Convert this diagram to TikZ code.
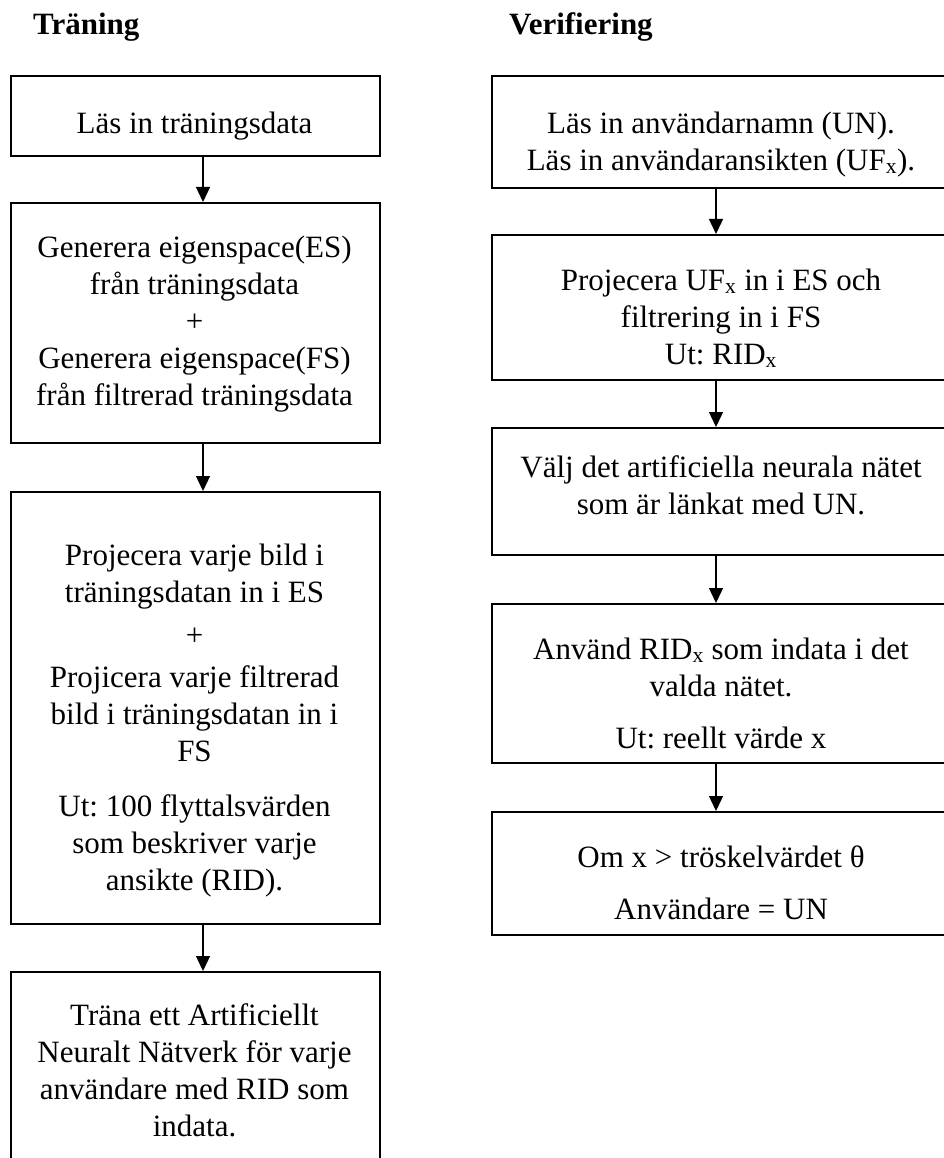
\documentclass[tikz,border=0pt]{standalone}
\usepackage{fontspec}
\setmainfont{Liberation Serif}
\usetikzlibrary{arrows.meta}
\begin{document}
\frenchspacing
\begin{tikzpicture}[x=1pt,y=-1pt,
  boxs/.style={draw, line width=2pt, inner sep=0pt, anchor=north west, minimum width=#1},
  lbox/.style={boxs=369pt},
  rbox/.style={boxs=460pt},
  txt/.style={inner sep=0pt, anchor=north, align=center, font=\fontsize{31}{37}\selectfont},
  ttl/.style={inner sep=0pt, anchor=base west, font=\fontsize{31}{37}\selectfont\bfseries},
  arr/.style={line width=1.3pt, -{Triangle[length=15pt,width=14pt]}}]
\useasboundingbox (0,0) rectangle (944,1158);
% titles
\node[ttl] (t1) at (33,35) {Träning};
\node[ttl] (t2) at (509,35) {Verifiering};
% left boxes
\node[lbox, minimum height=80pt] (L1) at (10,75) {};
\node[lbox, minimum height=240pt] (L2) at (10,202) {};
\node[lbox, minimum height=432pt] (L3) at (10,491) {};
\node[lbox, minimum height=250pt] (L4) at (10,971) {};
% right boxes
\node[rbox, minimum height=112pt] (R1) at (491,75) {};
\node[rbox, minimum height=145pt] (R2) at (491,234) {};
\node[rbox, minimum height=127pt] (R3) at (491,427) {};
\node[rbox, minimum height=159pt] (R4) at (491,603) {};
\node[rbox, minimum height=123pt] (R5) at (491,811) {};
% texts (north = first baseline - 25.9)
\node[txt] (l1t) at (194.5,107.1) {\strut Läs in träningsdata};
\node[txt] (l2t) at (194.5,231.1) {\strut Generera eigenspace(ES)\\från träningsdata\\+\\Generera eigenspace(FS)\\från filtrerad träningsdata};
\node[txt] (l3t) at (194.5,539.1) {\strut Projecera varje bild i\\träningsdatan in i ES\\[6pt]+\\[5pt]Projicera varje filtrerad\\bild i träningsdatan in i\\FS\\[18pt]Ut: 100 flyttalsvärden\\som beskriver varje\\ansikte (RID).};
\node[txt] (l4t) at (194.5,999.1) {\strut Träna ett Artificiellt\\Neuralt Nätverk för varje\\användare med RID som\\indata.};
\node[txt] (r1t) at (721,107.1) {\strut Läs in användarnamn (UN).\\Läs in användaransikten (UF\textsubscript{x}).};
\node[txt] (r2t) at (721,264.1) {\strut Projecera UF\textsubscript{x} in i ES och\\filtrering in i FS\\Ut: RID\textsubscript{x}};
\node[txt] (r3t) at (721,451.1) {\strut Välj det artificiella neurala nätet\\som är länkat med UN.};
\node[txt] (r4t) at (721,633.1) {\strut Använd RID\textsubscript{x} som indata i det\\valda nätet.\\[15pt]Ut: reellt värde x};
\node[txt] (r5t) at (721,841.1) {\strut Om x > tröskelvärdet θ\\[15pt]Användare = UN};
% connectors
\draw[arr] ([xshift=7.5pt]L1.south) -- ([xshift=7.5pt]L2.north);
\draw[arr] ([xshift=7.5pt]L2.south) -- ([xshift=7.5pt]L3.north);
\draw[arr] ([xshift=7.5pt]L3.south) -- ([xshift=7.5pt]L4.north);
\draw[arr] ([xshift=-6pt]R1.south) -- ([xshift=-6pt]R2.north);
\draw[arr] ([xshift=-6pt]R2.south) -- ([xshift=-6pt]R3.north);
\draw[arr] ([xshift=-6pt]R3.south) -- ([xshift=-6pt]R4.north);
\draw[arr] ([xshift=-6pt]R4.south) -- ([xshift=-6pt]R5.north);
\end{tikzpicture}
\end{document}
